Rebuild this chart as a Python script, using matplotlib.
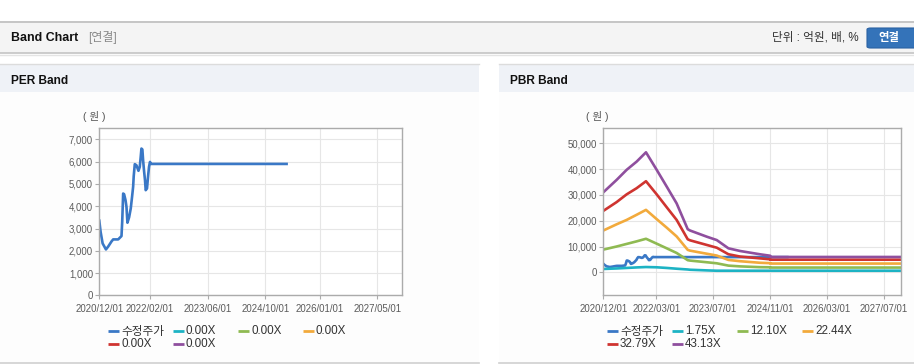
import matplotlib
matplotlib.use("Agg")
import matplotlib.pyplot as plt
from matplotlib.patches import Rectangle, FancyBboxPatch
from matplotlib.lines import Line2D
import pandas as pd

plt.rcParams['font.family'] = ['Liberation Sans', 'Noto Sans CJK KR', 'DejaVu Sans']

W, H = 914, 364

# adjusted price (수정주가), shared by both charts
price_dates = ['2020-12-01', '2020-12-12', '2020-12-29', '2021-01-26', '2021-02-14', '2021-03-14',
               '2021-03-28', '2021-05-09', '2021-06-06', '2021-06-12', '2021-06-20', '2021-06-28',
               '2021-07-10', '2021-07-18', '2021-07-26', '2021-08-09', '2021-08-23', '2021-09-03',
               '2021-09-12', '2021-09-17', '2021-09-26', '2021-10-10', '2021-10-27', '2021-11-07',
               '2021-11-15', '2021-11-21', '2021-11-29', '2021-12-05', '2021-12-13', '2021-12-21',
               '2021-12-27', '2022-01-07', '2022-01-16', '2022-01-24', '2022-02-01', '2022-02-10',
               '2025-03-28']
price = [3350, 2850, 2330, 2060, 2190, 2420, 2510, 2510, 2660, 3300, 4570, 4540,
         4270, 3970, 3260, 3500, 3900, 4420, 4870, 5350, 5890, 5840, 5590, 5770,
         6220, 6590, 6550, 6070, 5590, 5170, 4720, 4800, 5350, 5770, 5990, 5900,
         5900]

# PBR band lines
band_dates = ['2020-12-01', '2021-03-25', '2021-06-19', '2021-09-13', '2021-12-02', '2022-03-04',
              '2022-05-29', '2022-08-22', '2022-11-25', '2022-12-15', '2023-05-08', '2023-08-01',
              '2023-11-09', '2024-02-18', '2024-08-07', '2024-11-01', '2024-11-02', '2027-11-28']
pbr_175 = [1300, 1500, 1700, 1900, 2050, 1950, 1700, 1400, 1100, 1000, 750, 620,
           620, 620, 620, 620, 620, 620]
pbr_1210 = [8800, 10000, 11000, 12000, 13000, 11100, 9300, 7500, 4700, 4550, 3900, 3500,
            2600, 2300, 2000, 1950, 1850, 1850]
pbr_2244 = [16200, 18600, 20300, 22300, 24200, 20600, 17300, 13900, 8700, 8400, 7200, 6500,
            4800, 4300, 3700, 3550, 3400, 3400]
pbr_3279 = [23800, 27200, 30200, 32600, 35300, 30200, 25200, 20300, 12800, 12400, 10600, 9540,
            7000, 6100, 5400, 5040, 4900, 4900]
pbr_4313 = [31000, 35800, 39700, 42900, 46500, 39700, 33200, 26700, 16700, 16200, 13800, 12500,
            9300, 8260, 6980, 6430, 5950, 5950]

per_labels = ['수정주가', '0.00X', '0.00X', '0.00X', '0.00X', '0.00X']
pbr_labels = ['수정주가', '1.75X', '12.10X', '22.44X', '32.79X', '43.13X']
colors = ['#3a78c6', '#1db3c4', '#8fba52', '#f2aa3c', '#cf3430', '#8f4f9e']

per_ticks = ['2020/12/01', '2022/02/01', '2023/06/01', '2024/10/01', '2026/01/01', '2027/05/01']
pbr_ticks = ['2020/12/01', '2022/03/01', '2023/07/01', '2024/11/01', '2026/03/01', '2027/07/01']
xlim = ('2020-12-01', '2027-11-28')


def fx(x):
    return x / W


def fy(y):
    return 1 - y / H


fig = plt.figure(figsize=(W / 100, H / 100), dpi=100)
fig.patch.set_facecolor('white')


def rect(x0, y0, x1, y1, color):
    fig.patches.append(Rectangle((fx(x0), fy(y1)), fx(x1) - fx(x0), fy(y0) - fy(y1),
                                 transform=fig.transFigure, facecolor=color,
                                 edgecolor='none', zorder=-2))


def hline(x0, x1, y, color, lw=1.0):
    fig.add_artist(Line2D([fx(x0), fx(x1)], [fy(y), fy(y)], transform=fig.transFigure,
                          color=color, lw=lw, zorder=-1))


# header bar
rect(0, 21, W, 53, '#f4f4f4')
hline(0, W, 21.5, '#bdbdbd', 1.2)
hline(0, W, 53, '#c4c4c4', 1.2)
hline(0, W, 54.5, '#e4e4e4', 1.0)
fig.text(fx(11), fy(38), 'Band Chart', fontsize=8.9, fontweight='bold', color='#111',
         va='center', ha='left')
fig.text(fx(88), fy(38), '[연결]', fontsize=8.6, color='#8a8a8a', va='center', ha='left')
fig.text(fx(859), fy(38), '단위 : 억원, 배, %', fontsize=8.4, color='#333', va='center', ha='right')
fig.patches.append(FancyBboxPatch((fx(867), fy(48)), fx(60), fy(28) - fy(48),
                                  boxstyle='round,pad=0,rounding_size=0.004',
                                  transform=fig.transFigure, facecolor='#3473b9',
                                  edgecolor='#2b62a3', lw=0.8, zorder=1))
fig.text(fx(889), fy(38), '연결', fontsize=8.2, fontweight='bold', color='white',
         va='center', ha='center', zorder=3)

# panels
for x0, x1, title in [(0, 479, 'PER Band'), (499, W, 'PBR Band')]:
    rect(x0, 64, x1, 92, '#eff2f7')
    rect(x0, 92, x1, 362, '#fdfdfd')
    hline(x0, x1, 63.8, '#dcdcdc', 1.0)
    hline(x0, x1, 362.5, '#cfcfcf', 1.2)
    fig.text(fx(x0 + 11), fy(80.5), title, fontsize=8.6, fontweight='bold', color='#111',
             va='center', ha='left')


def style_axes(ax, ticks, ylim, yticks):
    ax.set_facecolor('white')
    ax.set_xlim(pd.to_datetime(xlim[0]), pd.to_datetime(xlim[1]))
    ax.set_ylim(*ylim)
    ax.set_xticks(pd.to_datetime(ticks))
    ax.set_xticklabels(ticks)
    ax.set_yticks(yticks)
    ax.set_yticklabels([f'{v:,}' for v in yticks])
    ax.grid(True, color='#e6e6e6', lw=0.8)
    ax.set_axisbelow(True)
    for s in ax.spines.values():
        s.set_color('#ababab')
        s.set_linewidth(1.0)
    ax.tick_params(axis='both', length=3, width=0.8, color='#ababab', labelsize=6.9,
                   labelcolor='#5a5a5a', pad=1.5)
    ax.tick_params(axis='x', pad=3.5)


def legend(x_start, labels):
    for i, (lab, col) in enumerate(zip(labels, colors)):
        row, c = divmod(i, 4)
        x = x_start + c * 65
        y = 331 + row * 12.7
        fig.add_artist(Line2D([fx(x), fx(x + 10.5)], [fy(y), fy(y)], transform=fig.transFigure,
                              color=col, lw=2.0, solid_capstyle='butt'))
        fig.text(fx(x + 13), fy(y + 0.5), lab, fontsize=8.4, color='#333', va='center', ha='left')


# PER chart
ax1 = fig.add_axes([fx(99.3), fy(295.3), fx(402.3) - fx(99.3), fy(128.3) - fy(295.3)])
style_axes(ax1, per_ticks, (0, 7500), list(range(0, 7001, 1000)))
ax1.plot(pd.to_datetime(price_dates), price, color=colors[0], lw=1.9)
fig.text(fx(94), fy(117), '( 원 )', fontsize=7.6, color='#555', va='center', ha='center')
legend(108, per_labels)

# PBR chart
ax2 = fig.add_axes([fx(603.3), fy(295.3), fx(901) - fx(603.3), fy(128.3) - fy(295.3)])
style_axes(ax2, pbr_ticks, (-8900, 55800), list(range(0, 50001, 10000)))
bd = pd.to_datetime(band_dates)
ax2.plot(pd.to_datetime(price_dates), price, color=colors[0], lw=1.9)
for vals, col in zip([pbr_175, pbr_1210, pbr_2244, pbr_3279, pbr_4313], colors[1:]):
    ax2.plot(bd, vals, color=col, lw=1.9)
fig.text(fx(597), fy(117), '( 원 )', fontsize=7.6, color='#555', va='center', ha='center')
legend(607, pbr_labels)

fig.savefig('out.png', dpi=100)
